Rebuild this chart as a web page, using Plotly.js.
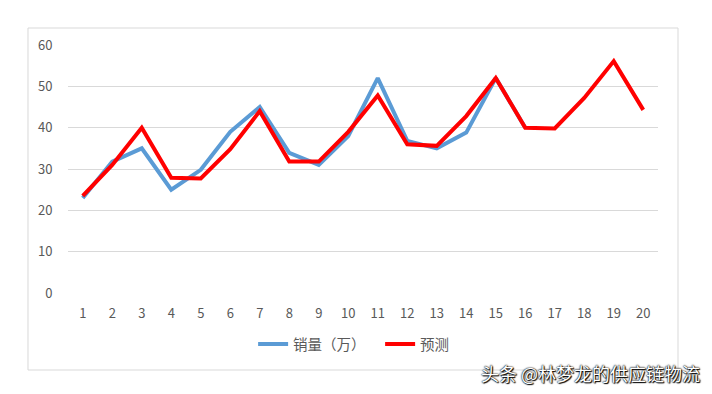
<!DOCTYPE html>
<html>
<head>
<meta charset="utf-8">
<script src="https://cdn.plot.ly/plotly-3.0.1.min.js"></script>
<style>html,body{margin:0;padding:0;background:#fff;}#chart{width:712px;height:394px;}</style>
</head>
<body>
<div id="chart"></div>
<script>
var categories = ["1","2","3","4","5","6","7","8","9","10","11","12","13","14","15","16","17","18","19","20"];
var salesName = "销量（万）";
var salesValues = [23, 31.8, 35, 25, 29.8, 39, 45, 33.9, 31, 38, 52, 36.8, 35, 38.8, 52, 40];
var forecastName = "预测";
var forecastValues = [23.5, 31, 40, 27.9, 27.7, 34.8, 44, 31.8, 31.8, 39, 47.8, 36, 35.6, 42.8, 52, 40, 39.8, 47.2, 56.1, 44.3];
var yTicks = [0, 10, 20, 30, 40, 50, 60];

var font = "'Noto Sans CJK SC', 'Noto Sans', sans-serif";
var data = [
  {x: categories.slice(0, salesValues.length), y: salesValues, name: salesName, type: "scatter", mode: "lines",
   line: {color: "#5B9BD5", width: 4}},
  {x: categories, y: forecastValues, name: forecastName, type: "scatter", mode: "lines",
   line: {color: "#FF0000", width: 4}}
];
var layout = {
  width: 712, height: 394,
  margin: {l: 68, r: 54, t: 45, b: 101},
  paper_bgcolor: "#fff", plot_bgcolor: "#fff",
  font: {family: font, color: "#595959", size: 13},
  showlegend: true,
  legend: {orientation: "h", x: 0.529, xanchor: "center", y: -0.206, yanchor: "middle",
           font: {family: font, size: 14.5, color: "#595959"}, itemwidth: 30, entrywidth: 82, tracegroupgap: 0},
  xaxis: {type: "category", categoryorder: "array", categoryarray: categories, range: [-0.5, 19.5],
          showgrid: false, zeroline: false, showline: false,
          ticks: "outside", ticklen: 8, tickcolor: "rgba(0,0,0,0)", tickfont: {size: 13, color: "#595959"}, fixedrange: true},
  yaxis: {range: [0, 60], tickvals: yTicks, ticktext: yTicks.map(String),
          showgrid: true, gridcolor: "#d9d9d9", gridwidth: 1, zeroline: false, showline: false,
          ticks: "outside", ticklen: 12, tickcolor: "rgba(0,0,0,0)", tickfont: {size: 13, color: "#595959"}, fixedrange: true},
  shapes: [{type: "rect", xref: "paper", yref: "paper", x0: -0.0678, x1: 1.0339, y0: -0.3105, y1: 1.0685,
            line: {color: "#d9d9d9", width: 1}, fillcolor: "rgba(0,0,0,0)", layer: "below"}],
  annotations: [{xref: "paper", yref: "paper", x: 0.885, y: -0.3226, xanchor: "center", yanchor: "middle",
                 text: "头条 @林梦龙的供应链物流", showarrow: false,
                 font: {family: font, size: 18, color: "#ffffff", shadow: "0 0 2px #000, 0 0 1px #000, 1px 1px 1px #000"}}]
};
Plotly.newPlot("chart", data, layout, {displayModeBar: false, staticPlot: true});
</script>
</body>
</html>
